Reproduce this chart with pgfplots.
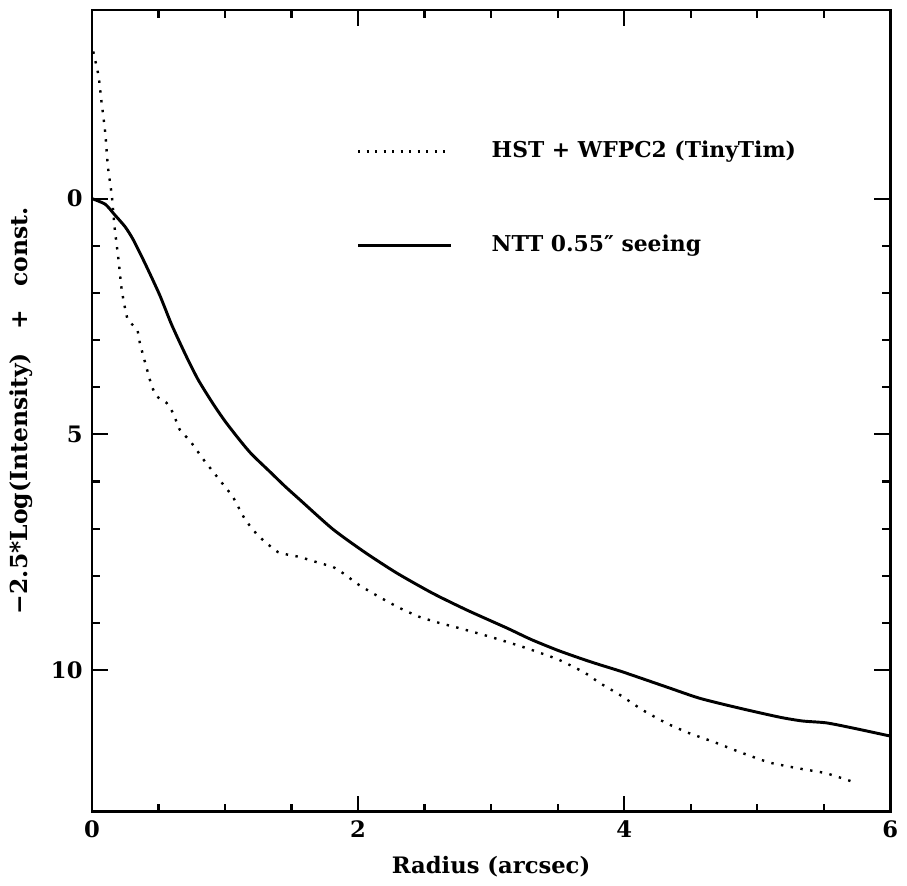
\documentclass[border=0pt]{standalone}
\usepackage{fontspec}
\setmainfont{DejaVu Serif}
\usepackage{pgfplots}
\pgfplotsset{compat=1.18}

\begin{document}
\begin{tikzpicture}
\begin{axis}[
  scale only axis,
  width=299.6pt, height=300.8pt,
  xmin=0, xmax=6,
  ymin=-4, ymax=13,
  y dir=reverse,
  xtick={0,2,4,6},
  ytick={0,5,10},
  minor x tick num=3,
  minor y tick num=4,
  tick align=inside,
  xtick pos=both, ytick pos=both,
  major tick length=6pt,
  minor tick length=3pt,
  every tick/.style={black, line width=0.8pt},
  axis line style={line width=1pt},
  /pgf/number format/assume math mode=true,
  ticklabel style={font=\bfseries\fontsize{8.5}{10}\selectfont},
  label style={font=\bfseries\fontsize{8.5}{10}\selectfont},
  xlabel={Radius (arcsec)},
  ylabel={−2.5*Log(Intensity)\quad+\quad const.},
  ylabel style={font=\bfseries\fontsize{8.8}{10}\selectfont},
]
% NTT 0.55" seeing
\addplot [black, line width=1.1pt, smooth, tension=0.4] coordinates {
(0,0) (0.1,0.12) (0.17,0.34) (0.25,0.6) (0.31,0.87) (0.4,1.38)
(0.51,2.05) (0.6,2.68) (0.71,3.35) (0.8,3.85) (0.91,4.35) (1.0,4.72)
(1.11,5.12) (1.2,5.42) (1.34,5.8) (1.45,6.1) (1.56,6.38) (1.81,7.01)
(2.05,7.5) (2.29,7.94) (2.56,8.37) (2.82,8.73) (3.12,9.11) (3.3,9.35)
(3.5,9.58) (3.7,9.78) (3.82,9.89) (3.99,10.04) (4.32,10.36) (4.57,10.6)
(4.87,10.81) (5.17,11.0) (5.34,11.08) (5.52,11.12) (5.72,11.23) (6.0,11.4)
};
% HST + WFPC2 (TinyTim)
\addplot [black, line width=0.9pt, dash pattern=on 0.9pt off 2.8pt, smooth, tension=0.3] coordinates {
(0.01,-3.12) (0.05,-2.6) (0.07,-2.1) (0.1,-1.4) (0.12,-0.68) (0.15,-0.05)
(0.17,0.6) (0.2,1.3) (0.22,1.85) (0.24,2.2) (0.27,2.57) (0.34,2.78)
(0.36,3.06) (0.4,3.48) (0.45,3.98) (0.49,4.2) (0.56,4.33) (0.61,4.55)
(0.66,4.9) (0.74,5.15) (0.84,5.54) (0.96,5.97) (1.06,6.33) (1.15,6.8)
(1.25,7.15) (1.4,7.5) (1.56,7.6) (1.71,7.73) (1.81,7.81) (1.89,7.95)
(2.01,8.2) (2.16,8.45) (2.31,8.68) (2.46,8.87) (2.61,9.0) (2.76,9.11)
(3.0,9.3) (3.25,9.52) (3.5,9.77) (3.7,10.05) (3.82,10.28) (3.97,10.53)
(4.14,10.85) (4.32,11.13) (4.49,11.34) (4.67,11.52) (4.87,11.74) (5.09,11.96)
(5.32,12.09) (5.52,12.19) (5.73,12.38)
};
% key
\addplot [black, line width=0.9pt, dash pattern=on 0.8pt off 2.4pt] coordinates {(2.0,-1) (2.7,-1)};
\addplot [black, line width=1.1pt] coordinates {(2.0,1) (2.7,1)};
\node [anchor=west, inner sep=0pt, font=\bfseries\fontsize{8.2}{10}\selectfont] at (axis cs:3.0,-1) {HST + WFPC2 (TinyTim)};
\node [anchor=west, inner sep=0pt, font=\bfseries\fontsize{8.2}{10}\selectfont] at (axis cs:3.0,1) {NTT 0.55″ seeing};
\end{axis}
\path (current axis.south west) ++(-34.5pt,-25.1pt) (current axis.north east) ++(6pt,3.75pt);
\end{tikzpicture}
\end{document}
